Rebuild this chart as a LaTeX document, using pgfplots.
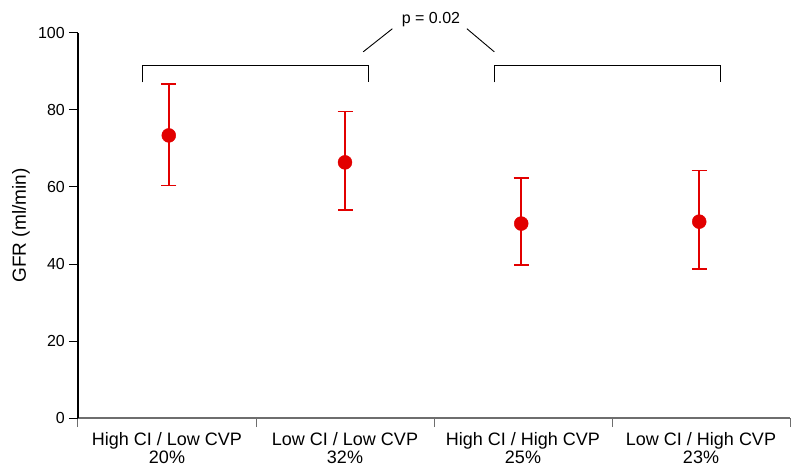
\documentclass[border=0pt]{standalone}
\usepackage{pgfplots}
\pgfplotsset{compat=1.18}
\usepackage{fontspec}
\setmainfont{Liberation Sans}
\definecolor{ptred}{RGB}{226,0,0}
\definecolor{axgray}{RGB}{110,110,110}
\begin{document}
\begin{tikzpicture}
\begin{axis}[
  scale only axis,
  width=712pt, height=385pt,
  xmin=0, xmax=4, ymin=0, ymax=100,
  clip=false,
  axis x line*=bottom, axis y line*=left,
  x axis line style={-, axgray, line width=1.3pt},
  y axis line style={-, black, line width=1.1pt},
  tick align=outside,
  major tick length=9pt,
  ytick={0,20,40,60,80,100},
  /pgf/number format/assume math mode=true,
  yticklabel style={font=\fontsize{16}{16}\selectfont, inner sep=0pt, xshift=-4pt},
  ytick style={black, line width=1pt},
  xtick={0,1,2,3,4},
  xticklabels={},
  xtick style={axgray, line width=1pt},
  extra x ticks={0.5,1.5,2.5,3.5},
  extra x tick labels={High CI / Low CVP\\20\%, Low CI / Low CVP\\32\%, High CI / High CVP\\25\%, Low CI / High CVP\\23\%},
  extra x tick style={major tick length=0pt, tick label style={font=\fontsize{18}{18.3}\selectfont, align=center, inner sep=0pt, anchor=north, yshift=-14pt}},
  ylabel={GFR (ml/min)},
  every axis y label/.style={at={([xshift=-48pt]axis description cs:0,0.5)}, rotate=90, anchor=south, font=\fontsize{19}{19}\selectfont, inner sep=0pt},
]
\addplot[only marks, mark=*, mark size=7pt, color=ptred,
  error bars/.cd, y dir=both, y explicit,
  error bar style={line width=1.5pt, ptred},
  error mark options={rotate=90, mark size=7.5pt, line width=1.5pt, ptred}]
  table[x=x, y=y, y error plus=ep, y error minus=em] {
x     y     ep    em
0.51  73.4  13.3  13.0
1.50  66.4  13.2  12.4
2.49  50.5  11.9  10.7
3.49  51.0  13.3  12.3
};
\draw[line width=1.2pt] (axis cs:0.363,87.2) -- (axis cs:0.363,91.5) -- (axis cs:1.631,91.5) -- (axis cs:1.631,87.2);
\draw[line width=1.2pt] (axis cs:2.339,87.2) -- (axis cs:2.339,91.5) -- (axis cs:3.608,91.5) -- (axis cs:3.608,87.2);
\draw[line width=0.9pt] (axis cs:1.602,95.1) -- (axis cs:1.766,101.1);
\draw[line width=0.9pt] (axis cs:2.185,101.1) -- (axis cs:2.339,95.1);
\node[font=\fontsize{16}{16}\selectfont, inner sep=0pt] at (axis cs:1.983,103.6) {p = 0.02};
\end{axis}
\pgfresetboundingbox
\path (-78pt,-56pt) rectangle (722pt,418pt);
\end{tikzpicture}
\end{document}
